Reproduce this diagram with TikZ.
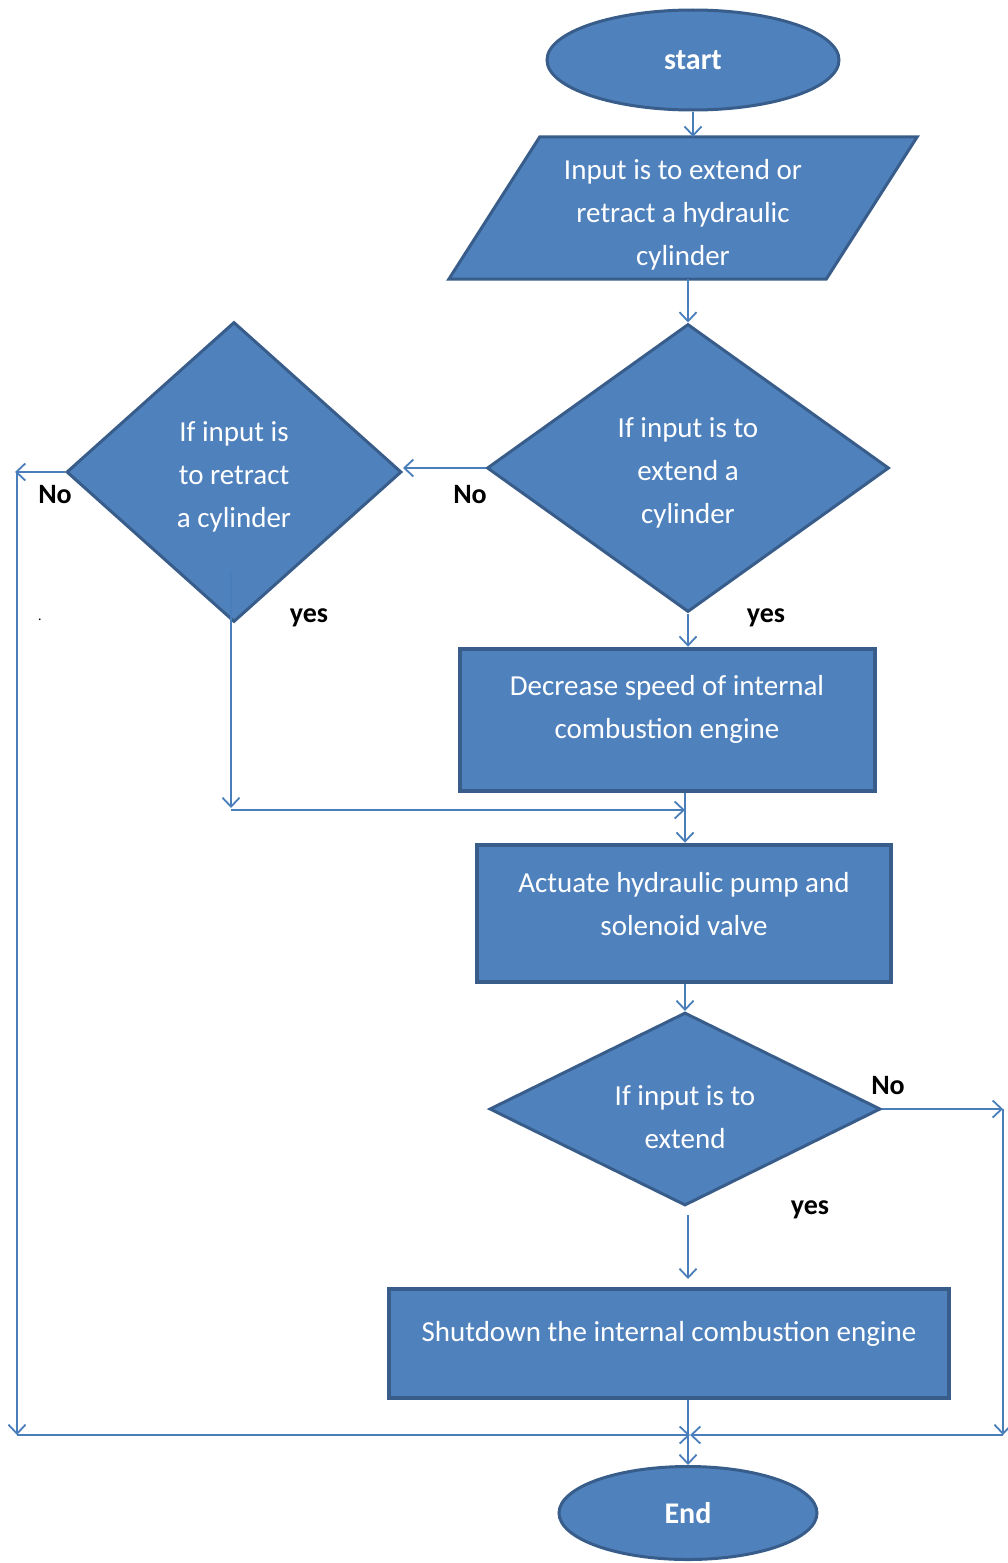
\documentclass[tikz,border=0pt]{standalone}
\usepackage{fontspec}
\setmainfont{Carlito}
\usetikzlibrary{shapes.geometric,arrows.meta,calc}
\definecolor{fillblue}{HTML}{4F81BD}
\definecolor{edgeblue}{HTML}{385D8A}
\definecolor{lineblue}{HTML}{4A7EBB}
\begin{document}
\begin{tikzpicture}[x=1pt,y=-1pt,
  shapefill/.style={fill=fillblue,draw=edgeblue,line width=3pt},
  boxnode/.style={shapefill,rectangle,line width=4.5pt,inner sep=0pt},
  decision/.style={shapefill,diamond,inner sep=0pt},
  terminal/.style={shapefill,ellipse,inner sep=0pt,text=white,
    font=\fontsize{30}{36}\selectfont\bfseries},
  txt/.style={text=white,align=center,font=\fontsize{29}{43}\selectfont,inner sep=0pt},
  conn/.style={draw=lineblue,line width=1.8pt,-{Straight Barb[length=9pt,width=17pt]}},
  lbl/.style={text=black,font=\fontsize{28}{30}\selectfont\bfseries,inner sep=0pt}]
\useasboundingbox (0,0) rectangle (1008,1563);

% nodes
\node[terminal,minimum width=292,minimum height=100] (start) at (693,60) {start};

\node[minimum width=377,minimum height=142,inner sep=0pt] (inp) at (683,208) {};
\draw[shapefill] ([xshift=45.5pt]inp.north west) -- ([xshift=45.5pt]inp.north east)
  -- ([xshift=-45.5pt]inp.south east) -- ([xshift=-45.5pt]inp.south west) -- cycle;
\node[txt] (inptext) at (683,215) {Input is to extend or\\retract a hydraulic\\cylinder};

\node[decision,minimum width=402,minimum height=288] (d1) at (688,468) {};
\node[txt] (d1text) at (688,473) {If input is to\\extend a\\cylinder};
\node[decision,minimum width=335,minimum height=300] (d2) at (234,472) {};
\node[txt] (d2text) at (234,477) {If input is\\to retract\\a cylinder};

\node[boxnode,minimum width=415,minimum height=142] (dec) at (667.5,720) {};
\node[txt] (dectext) at (667,709) {Decrease speed of internal\\combustion engine};

\node[boxnode,minimum width=414,minimum height=137] (act) at (684,913.5) {};
\node[txt] (acttext) at (684,904) {Actuate hydraulic pump and\\solenoid valve};

\node[decision,minimum width=391,minimum height=193] (d3) at (685,1109) {};
\node[txt] (d3text) at (685,1117) {If input is to\\extend};

\node[boxnode,minimum width=560,minimum height=109] (shut) at (669,1343.5) {};
\node[txt] (shuttext) at (669,1334) {Shutdown the internal combustion engine};

\node[terminal,minimum width=258,minimum height=93] (end) at (688,1513) {End};

% labels
\node[lbl] (no1) at (470,495) {No};
\node[lbl] (no2) at (55,495) {No};
\node[lbl] (no3) at (888,1086) {No};
\node[lbl] (yes1) at (309,618) {yes};
\node[lbl] (yes2) at (766,618) {yes};
\node[lbl] (yes3) at (810,1210) {yes};
\node[lbl,font=\fontsize{14}{14}\selectfont] (dot) at (40,620) {.};

% coordinates for bends
\coordinate (L1) at (15,472);
\coordinate (L2) at (17,1435);
\coordinate (J) at (690,1435);
\coordinate (R1) at (1003,1109);
\coordinate (R2) at (1003,1435);
\coordinate (Y2a) at (231,570);
\coordinate (Y2b) at (231,808);
\coordinate (M) at (685,810);
\coordinate (Y3a) at (688,1215);
\coordinate (Y3b) at (688,1279);

% connectors
\draw[conn] (start.south) -- (start.south |- inp.north);
\draw[conn] (inp.south -| d1.north) -- (d1.north);
\draw[conn] (d1.west) -- (d1.west -| d2.east);
\draw[conn] (d2.west) -- (d2.west -| L1);
\draw[conn] (L1 -| L2) -- (L2);
\draw[conn] (L2) -- (J);
\draw[conn] (d1.south) -- (d1.south |- dec.north);
\draw[conn] (Y2a) -- (Y2b);
\draw[conn] (Y2b |- M) -- (M);
\draw[conn] (dec.south -| M) -- (M |- act.north);
\draw[conn] (act.south -| d3.north) -- (d3.north);
\draw[conn] (d3.east) -- (R1);
\draw[conn] (R1) -- (R2);
\draw[conn] (R2) -- (J);
\draw[conn] (Y3a) -- (Y3b);
\draw[conn] (shut.south -| end.north) -- (end.north);
\end{tikzpicture}
\end{document}
